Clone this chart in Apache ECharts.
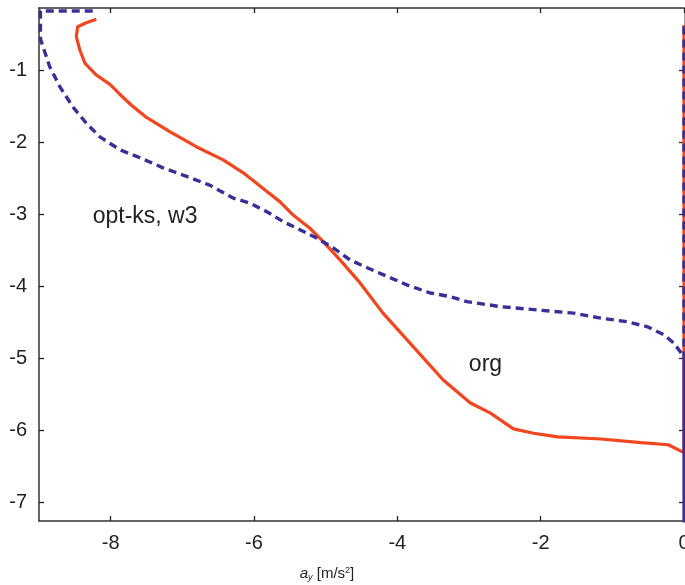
<!DOCTYPE html>
<html>
<head>
<meta charset="utf-8">
<script src="https://cdn.jsdelivr.net/npm/echarts@6/dist/echarts.min.js"></script>
<style>
html,body{margin:0;padding:0;background:#fff;}
#chart{width:685px;height:585px;}
</style>
</head>
<body>
<div id="chart"></div>
<script>
// Tick values
const xTicks = [-8, -6, -4, -2, 0];
const yTicks = [-7, -6, -5, -4, -3, -2, -1];

// "org" series (red, solid)
const orgX = [-8.20, -8.34, -8.46, -8.48, -8.43, -8.36, -8.20, -8.01, -7.88, -7.71, -7.50, -7.17, -6.80, -6.43, -6.15, -5.82, -5.64, -5.45, -5.22, -5.03, -4.80, -4.52, -4.20, -3.82, -3.36, -2.98, -2.70, -2.38, -2.10, -1.76, -1.16, -0.60, -0.22, 0.00, 0.00];
const orgY = [-0.285, -0.333, -0.388, -0.527, -0.712, -0.893, -1.06, -1.19, -1.32, -1.48, -1.65, -1.85, -2.06, -2.24, -2.42, -2.68, -2.82, -3.01, -3.19, -3.38, -3.63, -3.95, -4.37, -4.79, -5.30, -5.62, -5.76, -5.98, -6.04, -6.09, -6.12, -6.17, -6.20, -6.31, -0.365];

// "opt-ks, w3" series (blue, dashed)
const optX = [-8.25, -8.98, -8.98, -8.96, -8.85, -8.71, -8.53, -8.34, -8.15, -7.87, -7.59, -7.27, -6.94, -6.62, -6.29, -6.06, -5.82, -5.59, -5.36, -5.12, -4.90, -4.66, -4.42, -4.14, -3.86, -3.54, -3.26, -3.03, -2.56, -2.00, -1.54, -1.16, -0.79, -0.51, -0.28, -0.14, -0.02, 0.00, 0.00];
const optY = [-0.17, -0.17, -0.55, -0.62, -0.944, -1.22, -1.50, -1.73, -1.92, -2.10, -2.21, -2.35, -2.47, -2.59, -2.77, -2.84, -2.96, -3.10, -3.21, -3.33, -3.46, -3.63, -3.74, -3.86, -3.98, -4.09, -4.14, -4.21, -4.28, -4.33, -4.37, -4.44, -4.49, -4.56, -4.67, -4.79, -4.95, -5.00, -0.365];
// lower edge part of the blue series along x = 0
const optEdgeX = [0.00, 0.00];
const optEdgeY = [-5.00, -7.30];

// text labels
const labelTexts = ['opt-ks, w3', 'org'];
const labelX = [-7.52, -2.77];
const labelY = [-3.03, -5.09];

const RED = '#f2461f';
const BLUE = '#3a2f99';
const zip = (a, b) => a.map((v, i) => [v, b[i]]);

const chart = echarts.init(document.getElementById('chart'), null, {renderer: 'canvas'});
const FONT = 'Liberation Sans, Arial, sans-serif';

const axisCommon = {
  type: 'value',
  splitLine: {show: false},
  axisLine: {show: true, onZero: false, lineStyle: {color: '#333', width: 1.5}},
  axisTick: {show: true, inside: true, length: 5, lineStyle: {color: '#222', width: 1.3}},
};

chart.setOption({
  backgroundColor: '#fff',
  animation: false,
  grid: {left: 39, right: 1, top: 8, bottom: 64, containLabel: false, outerBoundsMode: 'none'},
  xAxis: [
    Object.assign({}, axisCommon, {
      position: 'bottom', min: -9, max: 0,
      axisTick: Object.assign({}, axisCommon.axisTick, {customValues: xTicks}),
      axisLabel: {customValues: xTicks, fontSize: 20, color: '#222', fontFamily: FONT, margin: 12}
    }),
    Object.assign({}, axisCommon, {
      position: 'top', min: -9, max: 0,
      axisTick: Object.assign({}, axisCommon.axisTick, {customValues: xTicks}),
      axisLabel: {show: false}
    })
  ],
  yAxis: [
    Object.assign({}, axisCommon, {
      position: 'left', min: -7.26, max: -0.128,
      axisTick: Object.assign({}, axisCommon.axisTick, {customValues: yTicks}),
      axisLabel: {customValues: yTicks, fontSize: 20, color: '#222', fontFamily: FONT, margin: 12}
    }),
    Object.assign({}, axisCommon, {
      position: 'right', min: -7.26, max: -0.128,
      axisLine: {show: true, onZero: false, lineStyle: {color: '#999', width: 1}},
      axisTick: Object.assign({}, axisCommon.axisTick, {customValues: yTicks}),
      axisLabel: {show: false}
    })
  ],
  series: [
    {
      name: 'org', type: 'line', data: zip(orgX, orgY), showSymbol: false, symbol: 'none',
      lineStyle: {color: RED, width: 3.2}, clip: true, z: 2
    },
    {
      name: 'opt-ks, w3', type: 'line', data: zip(optX, optY), showSymbol: false, symbol: 'none',
      lineStyle: {color: BLUE, width: 3.4, type: [8, 5]}, clip: true, z: 3
    },
    {
      name: 'opt-ks, w3 edge', type: 'line', data: zip(optEdgeX, optEdgeY), showSymbol: false, symbol: 'none',
      lineStyle: {color: BLUE, width: 3.2}, clip: true, z: 3
    }
  ]
});

const graphics = labelTexts.map((t, i) => {
  const p = chart.convertToPixel({xAxisIndex: 0, yAxisIndex: 0}, [labelX[i], labelY[i]]);
  return {
    type: 'text', x: p[0], y: p[1],
    style: {text: t, fill: '#222', font: '23px ' + FONT, align: 'center', verticalAlign: 'middle'}
  };
});
graphics.push({
  type: 'text', x: 327, y: 574,
  style: {
    text: '{a|a}{s|y} [m/s{p|2}]',
    align: 'center', verticalAlign: 'middle',
    fill: '#222',
    rich: {
      a: {fontSize: 15, fontStyle: 'italic', fontFamily: FONT, lineHeight: 16, verticalAlign: 'middle'},
      s: {fontSize: 9, fontStyle: 'italic', fontFamily: FONT, lineHeight: 16, verticalAlign: 'bottom', padding: [8, 0, 0, 0]},
      p: {fontSize: 9, fontFamily: FONT, lineHeight: 16, verticalAlign: 'top', padding: [0, 0, 8, 0]}
    },
    font: '15px ' + FONT
  }
});
chart.setOption({graphic: graphics});
</script>
</body>
</html>
